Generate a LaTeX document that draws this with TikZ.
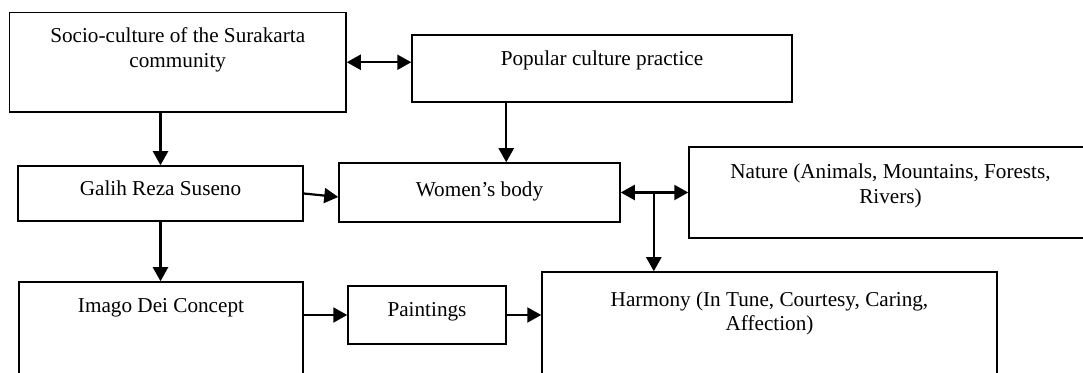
\documentclass[tikz,border=0pt]{standalone}
\usepackage{fontspec}
\setmainfont{Liberation Serif}
\usetikzlibrary{arrows.meta,calc}
\tikzset{
  box/.style={draw, line width=0.75pt, inner sep=0pt, rectangle},
  lbl/.style={inner sep=0pt, align=center, font=\fontsize{10.6}{12.3}\selectfont},
  tip/.style={Triangle[length=7pt,width=7.5pt]},
  conn/.style={line width=1.1pt, -{Triangle[length=7pt,width=7.5pt]}},
  dconn/.style={line width=1.1pt, {Triangle[length=7pt,width=7.5pt]}-{Triangle[length=7pt,width=7.5pt]}}
}
\begin{document}
\begin{tikzpicture}[x=0.5pt,y=-0.5pt]
\useasboundingbox (0,0) rectangle (1083,373);
\clip (0,0) rectangle (1083,373);
% boxes
\node[box, minimum width=168.25pt, minimum height=49.75pt] (soc) at (177.75,62.25) {};
\node[box, minimum width=190pt, minimum height=33.5pt] (pop) at (602,68.5) {};
\node[box, minimum width=142.5pt, minimum height=27.5pt] (galih) at (160.5,193.5) {};
\node[box, minimum width=140.5pt, minimum height=29.5pt] (women) at (479.5,192.5) {};
\node[box, minimum width=201.5pt, minimum height=45.5pt] (nature) at (890.5,192.5) {};
\node[box, minimum width=142pt, minimum height=59pt] (imago) at (161,341) {};
\node[box, minimum width=79pt, minimum height=29pt] (paint) at (427,315) {};
\node[box, minimum width=227.5pt, minimum height=64pt] (harmony) at (769.5,336) {};
% texts
\node[lbl, anchor=north] (tsoc) at (177.75,27.5) {Socio-culture of the Surakarta\\community};
\node[lbl, anchor=base] (tpop) at (602,66) {Popular culture practice};
\node[lbl, anchor=base] (tgalih) at (160.5,196) {Galih Reza Suseno};
\node[lbl, anchor=base] (twomen) at (479.5,197) {Women’s body};
\node[lbl, anchor=north] (tnature) at (890.5,163.5) {Nature (Animals, Mountains, Forests,\\Rivers)};
\node[lbl, anchor=base] (timago) at (161,313) {Imago Dei Concept};
\node[lbl, anchor=base] (tpaint) at (427,317) {Paintings};
\node[lbl, anchor=north] (tharmony) at (769.5,291) {Harmony (In Tune, Courtesy, Caring,\\Affection)};
% connectors
\draw[dconn] (soc.east) -- (pop.west |- soc.east);
\draw[conn] (galih.north |- soc.south) -- (galih.north);
\draw[conn] ([xshift=47.5pt]pop.south west) -- ([xshift=47.5pt]pop.south west |- women.north);
\draw[conn] (galih.east) -- ([yshift=-2.25pt]women.west);
\draw[dconn] (women.east) -- (nature.west);
\coordinate (mid) at ($(women.east)!0.49!(nature.west)$);
\draw[conn] (mid) -- (mid |- harmony.north);
\draw[conn] (galih.south) -- (galih.south |- imago.north);
\draw[conn] (imago.east |- paint.west) -- (paint.west);
\draw[conn] (paint.east) -- (paint.east -| harmony.west);
\end{tikzpicture}
\end{document}
